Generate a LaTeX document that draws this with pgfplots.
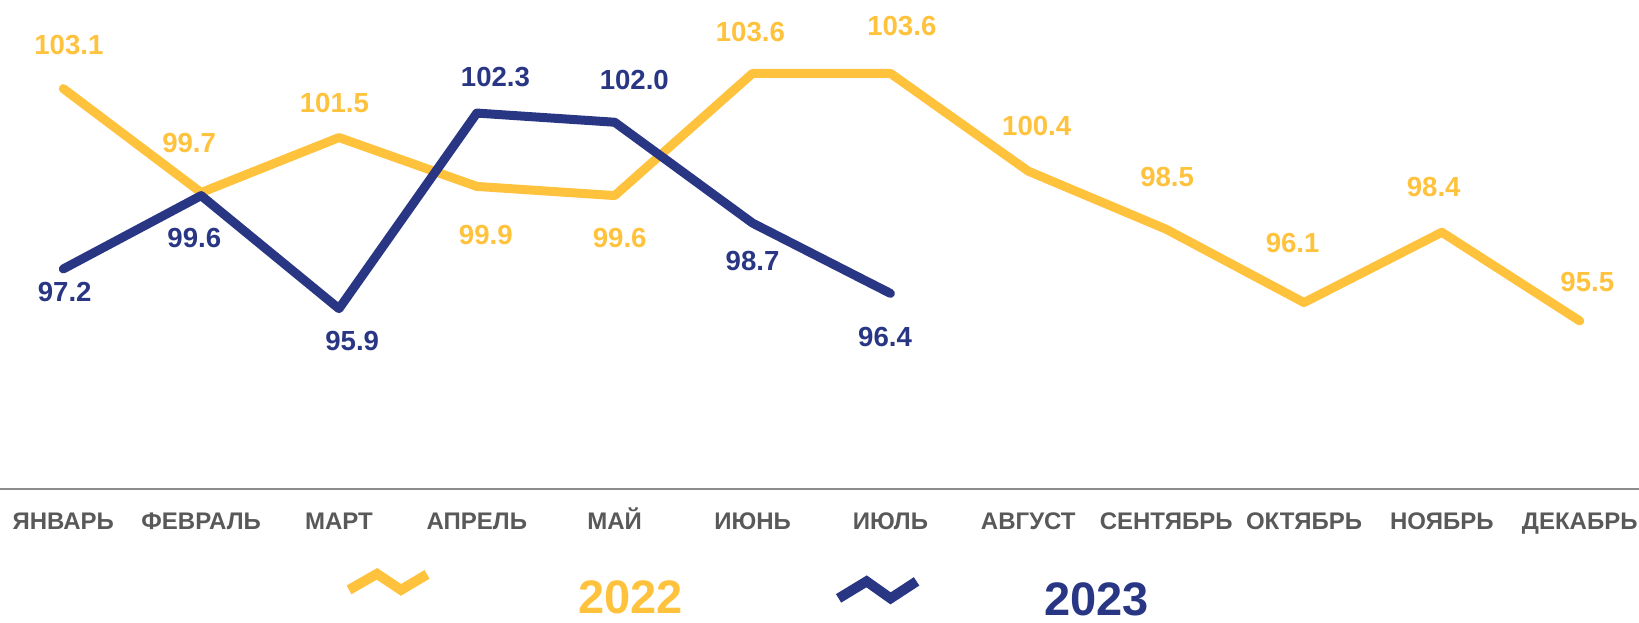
\documentclass[border=0pt]{standalone}
\usepackage{fontspec}
\setmainfont{Liberation Sans}
\usepackage{pgfplots}
\pgfplotsset{compat=1.18}
\usepackage{pgfplotstable}
\definecolor{ycol}{RGB}{255,194,60}
\definecolor{bcol}{RGB}{41,54,132}
\definecolor{tcol}{RGB}{89,89,89}
\definecolor{acol}{RGB}{140,140,140}

\pgfplotstableread{
x y lab dx dy
0 103.1 103.1 2.8 22
1 99.7 99.7 -6 24.7
2 101.5 101.5 -2.3 17.1
3 99.9 99.9 4.5 -24.3
4 99.6 99.6 2.5 -21.3
5 103.6 103.6 -1.1 20.6
6 103.6 103.6 5.7 23.8
7 100.4 100.4 4.2 22.4
8 98.5 98.5 0.5 26.3
9 96.1 96.1 -5.7 30
10 98.4 98.4 -4.1 22.6
11 95.5 95.5 3.8 19.3
}\ydata

\pgfplotstableread{
x y lab dx dy
0 97.2 97.2 0.7 -11.3
1 99.6 99.6 -3.4 -21.3
2 95.9 95.9 6.6 -16.1
3 102.3 102.3 9.3 18
4 102.0 102.0 9.8 21
5 98.7 98.7 0 -19.1
6 96.4 96.4 -2.7 -21.6
}\bdata

\begin{document}
\begin{tikzpicture}
\useasboundingbox (0,0) rectangle (819.5pt,311pt);
\begin{axis}[
  at={(0pt,66.5pt)}, anchor=south west,
  width=819.5pt, height=244.5pt, scale only axis,
  xmin=-0.459, xmax=11.43, ymin=90, ymax=106,
  axis x line*=bottom, axis y line=none,
  x axis line style={acol, line width=1pt, -},
  ytick=\empty,
  xtick={0,...,11},
  xticklabels={ЯНВАРЬ,ФЕВРАЛЬ,МАРТ,АПРЕЛЬ,МАЙ,ИЮНЬ,ИЮЛЬ,АВГУСТ,СЕНТЯБРЬ,ОКТЯБРЬ,НОЯБРЬ,ДЕКАБРЬ},
  major tick length=0pt,
  xticklabel style={font=\bfseries\fontsize{12}{12}\selectfont, text=tcol, anchor=base, yshift=-20.3pt},
  clip=false,
  legend columns=2,
  legend style={draw=none, fill=none, at={(0.2060,-0.2122)}, anchor=west,
    font=\bfseries\fontsize{23.5}{23.5}\selectfont,
    nodes={inner sep=0pt}, column sep=0pt,
    /tikz/column 1/.style={column sep=73.2pt},
    /tikz/column 2/.style={column sep=75.3pt},
    /tikz/column 3/.style={column sep=61.5pt}},
]
\addplot[color=ycol, line width=4.5pt, line cap=round, line join=round,
  point meta=explicit symbolic,
  nodes near coords={\pgfplotspointmeta},
  visualization depends on={\thisrow{dx} \as \dx},
  visualization depends on={\thisrow{dy} \as \dy},
  every node near coord/.append style={anchor=center, xshift=\dx pt, yshift=\dy pt,
    font=\bfseries\fontsize{13.8}{13.8}\selectfont, text=ycol},
  legend image code/.code={\draw[ycol, line width=5pt, line cap=butt, line join=miter]
    (0pt,4.45pt) -- (14pt,12.45pt) -- (26pt,4.45pt) -- (39pt,12.2pt);}]
  table[x=x, y=y, meta=lab] {\ydata};
\addlegendentry{\textcolor{ycol}{2022}}
\addplot[color=bcol, line width=4.5pt, line cap=round, line join=round,
  point meta=explicit symbolic,
  nodes near coords={\pgfplotspointmeta},
  visualization depends on={\thisrow{dx} \as \dx},
  visualization depends on={\thisrow{dy} \as \dy},
  every node near coord/.append style={anchor=center, xshift=\dx pt, yshift=\dy pt,
    font=\bfseries\fontsize{13.8}{13.8}\selectfont, text=bcol},
  legend image code/.code={\draw[bcol, line width=5pt, line cap=butt, line join=miter]
    (0pt,0.2pt) -- (14pt,8.7pt) -- (26pt,0.2pt) -- (39pt,8.7pt);}]
  table[x=x, y=y, meta=lab] {\bdata};
\addlegendentry{\textcolor{bcol}{\raisebox{-1.6pt}{2023}}}
\end{axis}
\end{tikzpicture}
\end{document}
